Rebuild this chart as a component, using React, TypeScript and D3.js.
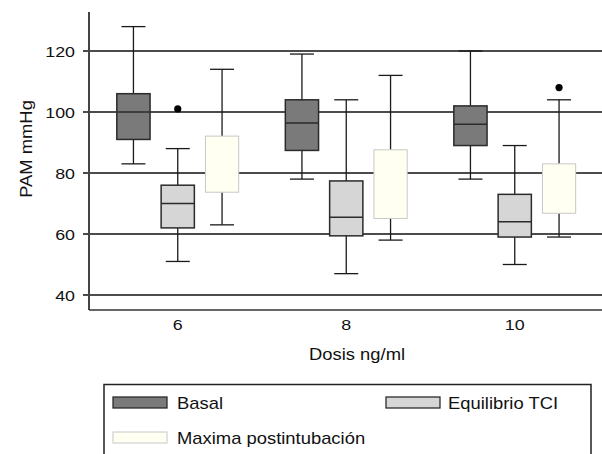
import React from 'react';
import * as d3 from 'd3';

// dosis (categorías del eje x)
const doses = ['6', '8', '10'];
const seriesNames = ['Basal', 'Equilibrio TCI', 'Maxima postintubación'];

// [min, q1, mediana, q3, max] por dosis
const basalStats = [
  [83, 91, 100, 106, 128],
  [78, 87.4, 96.4, 104, 119],
  [78, 89, 96, 102, 120],
];
const tciStats = [
  [51, 62, 70, 76, 88],
  [47, 59.4, 65.5, 77.4, 104],
  [50, 59, 64, 73, 89],
];
// la mediana no se ve en la serie "Maxima"
const maximaStats = [
  [63, 73.7, null, 92.1, 114],
  [58, 65.1, null, 87.6, 112],
  [59, 66.8, null, 83, 104],
];
const basalOutliers = [[], [], []];
const tciOutliers = [[101], [], []];
const maximaOutliers = [[], [], [108]];

const yTicks = [40, 60, 80, 100, 120];

const fills = ['#7a7a7a', '#d6d6d6', '#fffff2'];
const strokes = ['#2b2b2b', '#2b2b2b', '#c8c8c8'];

const W = 602, H = 454;
const FONT = '"Liberation Sans", Arial, sans-serif';
const SX = 1.15; // el texto original es algo más ancho que Arial

const Txt = ({ x, y, anchor = 'start', size = 15.5, rotate = 0, children }: any) => (
  <g transform={`translate(${x},${y}) rotate(${rotate}) scale(${SX},1)`}>
    <text textAnchor={anchor} fontSize={size} fontFamily={FONT} fill="#111">{children}</text>
  </g>
);

export default function App() {
  const plotTop = 12, plotBottom = 310, axisX = 89;
  const y = d3.scaleLinear().domain([40, 120]).range([295, 51]);
  const x = d3.scaleBand().domain(doses).range([93.5, 599]).paddingInner(0);
  const inner = d3.scaleBand().domain(seriesNames).range([-72, 72]).padding(0.25);
  const cap = 24;

  const allStats = [basalStats, tciStats, maximaStats];
  const allOut = [basalOutliers, tciOutliers, maximaOutliers];

  return (
    <svg width={W} height={H} style={{ position: 'absolute', left: 0, top: 0, background: '#fff' }}>
      {/* grid */}
      {yTicks.map(t => (
        <g key={t}>
          <line x1={axisX - 6} x2={W} y1={y(t)} y2={y(t)} stroke="#111" strokeWidth={1.3} />
          <Txt x={75} y={y(t) + 5.5} anchor="end">{t}</Txt>
        </g>
      ))}
      {/* ejes */}
      <line x1={axisX} x2={axisX} y1={plotTop} y2={plotBottom} stroke="#444" strokeWidth={2} />
      <line x1={axisX} x2={W} y1={plotBottom} y2={plotBottom} stroke="#333" strokeWidth={1.5} />

      {/* cajas */}
      {seriesNames.map((s, si) => doses.map((d, di) => {
        const [mn, q1, md, q3, mx] = allStats[si][di] as (number | null)[];
        const cx = x(d)! + x.bandwidth() / 2 + inner(s)! + inner.bandwidth() / 2;
        const bw = inner.bandwidth();
        return (
          <g key={s + d}>
            <line x1={cx} x2={cx} y1={y(mx!)} y2={y(q3!)} stroke="#1a1a1a" strokeWidth={1.3} />
            <line x1={cx} x2={cx} y1={y(q1!)} y2={y(mn!)} stroke="#1a1a1a" strokeWidth={1.3} />
            <line x1={cx - cap / 2} x2={cx + cap / 2} y1={y(mx!)} y2={y(mx!)} stroke="#1a1a1a" strokeWidth={1.3} />
            <line x1={cx - cap / 2} x2={cx + cap / 2} y1={y(mn!)} y2={y(mn!)} stroke="#1a1a1a" strokeWidth={1.3} />
            <rect x={cx - bw / 2} y={y(q3!)} width={bw} height={y(q1!) - y(q3!)}
              fill={fills[si]} stroke={strokes[si]} strokeWidth={si === 2 ? 1 : 1.5} />
            {md != null && (
              <line x1={cx - bw / 2} x2={cx + bw / 2} y1={y(md)} y2={y(md)} stroke="#2b2b2b" strokeWidth={1.5} />
            )}
            {allOut[si][di].map((o, oi) => (
              <circle key={oi} cx={cx} cy={y(o)} r={3.6} fill="#000" />
            ))}
          </g>
        );
      }))}

      {/* etiquetas eje x */}
      {doses.map(d => (
        <Txt key={d} x={x(d)! + x.bandwidth() / 2} y={330} anchor="middle">{d}</Txt>
      ))}
      <Txt x={357} y={360} anchor="middle" size={16}>Dosis ng/ml</Txt>
      <Txt x={32} y={149} anchor="middle" size={16} rotate={-90}>PAM mmHg</Txt>

      {/* leyenda */}
      <rect x={104} y={384.5} width={487} height={90} fill="none" stroke="#222" strokeWidth={1.5} />
      {[
        { i: 0, sx: 113, tx: 177, ty: 397 },
        { i: 1, sx: 386, tx: 448, ty: 397 },
        { i: 2, sx: 113, tx: 177, ty: 432 },
      ].map(({ i, sx, tx, ty }) => (
        <g key={i}>
          <rect x={sx} y={ty} width={54} height={11} fill={fills[i]} stroke={strokes[i]} strokeWidth={i === 2 ? 1 : 1.3} />
          <Txt x={tx} y={ty + 12} size={16}>{seriesNames[i]}</Txt>
        </g>
      ))}
    </svg>
  );
}
